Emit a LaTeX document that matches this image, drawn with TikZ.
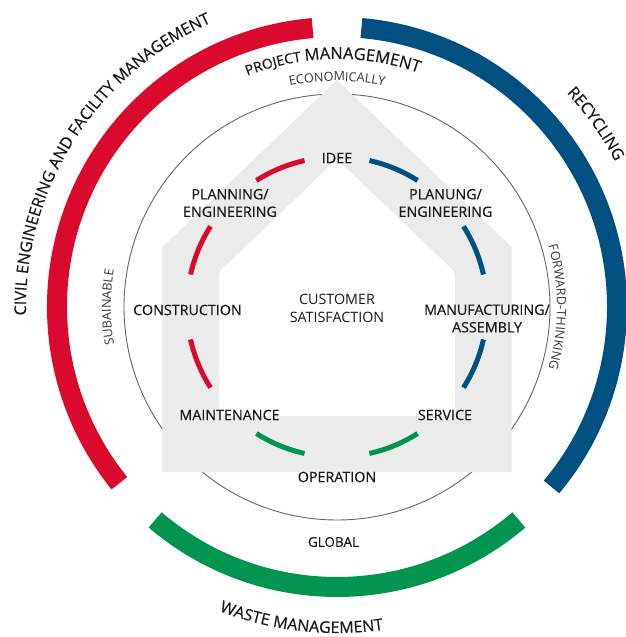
\documentclass[tikz,border=0pt]{standalone}
\usepackage{fontspec}
\setmainfont{Open Sans}
\newfontfamily\sbfam{Open Sans}[FakeBold=0.35]
\usetikzlibrary{decorations.text}
\definecolor{cred}{RGB}{218,10,46}
\definecolor{cblue}{RGB}{0,80,130}
\definecolor{cgreen}{RGB}{0,148,80}
\definecolor{housegray}{RGB}{235,235,235}
\definecolor{txt}{RGB}{25,25,25}
\definecolor{smalltxt}{RGB}{55,55,55}
\definecolor{circgray}{RGB}{100,100,100}
\newcommand\bgfnt{\sbfam\fontsize{16}{16}\selectfont}
\newcommand\pmfntA{\sbfam\fontsize{14}{14}\selectfont}
\newcommand\pmfntB{\sbfam\fontsize{16.5}{16.5}\selectfont}
\newcommand\smfnt{\fontsize{12.6}{12.6}\selectfont}
\newcommand\lblfnt{\sbfam\fontsize{14.3}{17.5}\selectfont}
\begin{document}
\begin{tikzpicture}[x=1pt,y=1pt,
  bigarc/.style={line width=20pt},
  seg/.style={line width=5pt},
  lbl/.style={font=\lblfnt, text=txt, align=center, inner sep=0pt},
  thincirc/.style={draw=circgray, line width=0.9pt}]
\useasboundingbox (-337,-330) rectangle (288,307);
% thin circle
\draw[thincirc] (0,0) circle[radius=213];
% house
\fill[housegray, even odd rule] (0,227) -- (174.5,60) -- (174.5,-165) -- (-174.5,-165) -- (-174.5,60) -- cycle
  [rounded corners=4pt] (0,148) -- (118,35) -- (118,-109) -- (-118,-109) -- (-118,35) -- cycle;
% outer arcs
\draw[bigarc, cred] (95:280) arc[start angle=95, end angle=219, radius=280];
\draw[bigarc, cblue] (85:280) arc[start angle=85, end angle=-40, radius=280];
\draw[bigarc, cgreen] (229.5:280) arc[start angle=229.5, end angle=310.5, radius=280];
% inner segments
\foreach \a/\c in {112.5/cred, 157.5/cred, 202.5/cred, 247.5/cgreen, 292.5/cgreen, 337.5/cblue, 22.5/cblue, 67.5/cblue}{
  \draw[seg, \c] (\a-10:150) arc[start angle=\a-10, end angle=\a+10, radius=150];
}
% inner labels
\node[lbl] (idee) at (0,149) {IDEE};
\node[lbl] (planning) at (-107,104) {PLANNING/\\ENGINEERING};
\node[lbl] (planung) at (108.5,104) {PLANUNG/\\ENGINEERING};
\node[lbl] (construction) at (-149.5,-3) {CONSTRUCTION};
\node[lbl, font=\fontsize{14.3}{17.5}\selectfont] (customer) at (0,-1.5) {CUSTOMER\\SATISFACTION};
\node[lbl] (manufacturing) at (150,-11.5) {MANUFACTURING/\\ASSEMBLY};
\node[lbl] (maintenance) at (-107.5,-108) {MAINTENANCE};
\node[lbl] (service) at (108,-108) {SERVICE};
\node[lbl] (operation) at (0,-170) {OPERATION};
\node[lbl, font=\sbfam\fontsize{13.5}{13.5}\selectfont] (global) at (-3.5,-235) {GLOBAL};
% curved small labels
\path[decorate, decoration={text along path, text align=center, text color=smalltxt,
  text={|\smfnt|ECONOMICALLY}}] (150:226) arc[start angle=150, end angle=30, radius=226];
\path[decorate, decoration={text along path, text align=center, text color=smalltxt,
  text={|\smfnt|SUBAINABLE}}] (240:226) arc[start angle=240, end angle=120, radius=226];
\path[decorate, decoration={text along path, text align=center, text color=smalltxt,
  text={|\smfnt|FORWARD-THINKING}}] (60:220) arc[start angle=60, end angle=-60, radius=220];
% curved big labels
\path[decorate, decoration={text along path, text align=center, text color=txt,
  text={|\pmfntA|PROJECT |\pmfntB|MANAGEMENT}}] (151:248) arc[start angle=151, end angle=31, radius=248];
\path[decorate, decoration={text along path, text align=center, text color=txt,
  text={|\bgfnt|CIVIL ENGINEERING AND FACILITY MANAGEMENT}}] (197.7:311) arc[start angle=197.7, end angle=97.7, radius=311];
\path[decorate, decoration={text along path, text align=center, text color=txt,
  text={|\bgfnt|RECYCLING}}] (75.3:314) arc[start angle=75.3, end angle=-4.7, radius=314];
\path[decorate, decoration={text along path, text align=center, text color=txt,
  text={|\bgfnt|WASTE MANAGEMENT}}] (223.5:326) arc[start angle=223.5, end angle=303.5, radius=326];
\end{tikzpicture}
\end{document}
